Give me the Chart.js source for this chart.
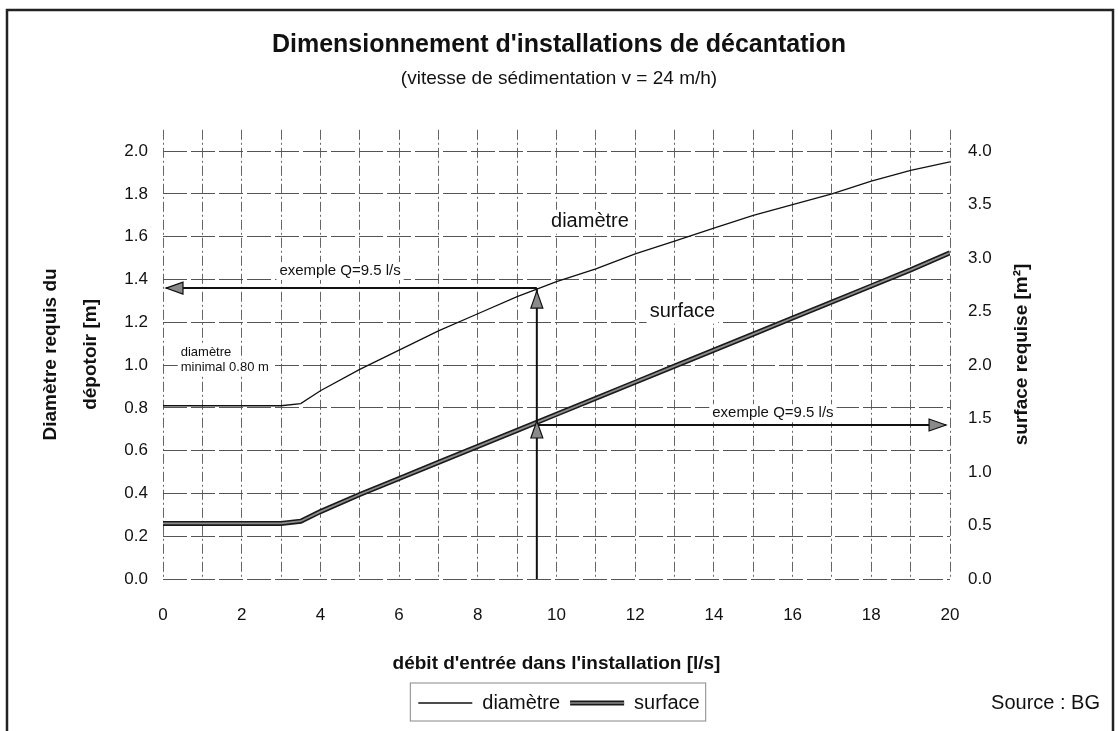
<!DOCTYPE html>
<html>
<head>
<meta charset="utf-8">
<script src="https://cdn.jsdelivr.net/npm/chart.js@4.4.1/dist/chart.umd.min.js"></script>
<style>
    html, body { margin: 0; padding: 0; background: #ffffff; }
    #wrap { position: relative; width: 1118px; height: 731px; }
</style>
</head>
<body>
<div id="wrap"><canvas id="decantChart"></canvas></div>
<script>
// débit d'entrée [l/s]
const flowRates = [0, 1, 2, 3, 3.5, 4, 5, 6, 7, 8, 9, 10, 11, 12, 13, 14, 15, 16, 17, 18, 19, 20];
// diamètre requis [m] (axe gauche)
const diametre = [0.81, 0.81, 0.81, 0.81, 0.82, 0.88, 0.98, 1.07, 1.16, 1.24, 1.32, 1.39, 1.45, 1.52, 1.58, 1.64, 1.70, 1.75, 1.80, 1.86, 1.91, 1.95];
// surface requise [m2] (axe droit)
const surface = [0.52, 0.52, 0.52, 0.52, 0.54, 0.63, 0.79, 0.94, 1.09, 1.24, 1.39, 1.54, 1.69, 1.84, 1.99, 2.14, 2.29, 2.44, 2.59, 2.74, 2.89, 3.05];

// exemple Q = 9.5 l/s
const exampleQ = 9.5;
const exampleDiam = 1.36;
const exampleSurf = 1.44;

const FONT = "'Liberation Sans', Arial, sans-serif";
Chart.defaults.font.family = FONT;
Chart.defaults.color = "#111";

const toPoints = values => flowRates.map((q, i) => ({ x: q, y: values[i] }));

function arrowHead(ctx, x, y, dir) {
    const len = 17, half = 6;
    ctx.beginPath();
    ctx.moveTo(x, y);
    if (dir === "left") { ctx.lineTo(x + len, y - half); ctx.lineTo(x + len, y + half); }
    if (dir === "right") { ctx.lineTo(x - len, y - half); ctx.lineTo(x - len, y + half); }
    if (dir === "up") { ctx.lineTo(x - half, y + len); ctx.lineTo(x + half, y + len); }
    ctx.closePath();
    ctx.fillStyle = "#8a8a8a";
    ctx.fill();
    ctx.lineWidth = 1.2;
    ctx.strokeStyle = "#111";
    ctx.stroke();
}

function label(ctx, text, x, y, size, align) {
    ctx.font = size + "px " + FONT;
    ctx.textAlign = align || "center";
    ctx.textBaseline = "middle";
    const w = ctx.measureText(text).width;
    const left = ctx.textAlign === "left" ? x : x - w / 2;
    ctx.fillStyle = "#fff";
    ctx.fillRect(left - 3, y - size * 0.6, w + 6, size * 1.2);
    ctx.fillStyle = "#111";
    ctx.fillText(text, x, y);
}

const extrasPlugin = {
    id: "extras",
    beforeDraw(chart) {
        const ctx = chart.ctx;
        ctx.save();
        ctx.fillStyle = "#fff";
        ctx.fillRect(0, 0, chart.width, chart.height);
        ctx.restore();
    },
    afterDatasetsDraw(chart) {
        const { ctx, scales: { x, y, y2 } } = chart;
        ctx.save();

        // texte sur le graphique
        label(ctx, "diamètre", x.getPixelForValue(10.85), y.getPixelForValue(1.67), 20);
        label(ctx, "surface", x.getPixelForValue(13.2), y.getPixelForValue(1.25), 20);
        label(ctx, "diamètre", x.getPixelForValue(0.45), y.getPixelForValue(1.06), 13, "left");
        label(ctx, "minimal 0.80 m", x.getPixelForValue(0.45), y.getPixelForValue(0.99), 13, "left");
        label(ctx, "exemple Q=9.5 l/s", x.getPixelForValue(4.5), y.getPixelForValue(1.44), 15);
        label(ctx, "exemple Q=9.5 l/s", x.getPixelForValue(15.5), y2.getPixelForValue(1.55), 15);

        // flèches de l'exemple
        const qx = x.getPixelForValue(exampleQ);
        const dy = y.getPixelForValue(exampleDiam);
        const sy = y2.getPixelForValue(exampleSurf);
        ctx.strokeStyle = "#111";
        ctx.lineWidth = 2;
        ctx.beginPath();
        ctx.moveTo(qx, y.getPixelForValue(0));
        ctx.lineTo(qx, dy);
        ctx.moveTo(qx, dy);
        ctx.lineTo(x.getPixelForValue(0) + 3, dy);
        ctx.moveTo(qx, sy);
        ctx.lineTo(x.getPixelForValue(19.9), sy);
        ctx.stroke();
        arrowHead(ctx, x.getPixelForValue(0) + 3, dy, "left");
        arrowHead(ctx, x.getPixelForValue(19.9), sy, "right");
        arrowHead(ctx, qx, dy + 3, "up");
        arrowHead(ctx, qx, sy - 4, "up");
        ctx.restore();
    },
    afterDraw(chart) {
        const { ctx, chartArea, legend } = chart;
        ctx.save();

        // titre de l'axe droit
        ctx.translate(1022, (chartArea.top + chartArea.bottom) / 2);
        ctx.rotate(-Math.PI / 2);
        ctx.font = "bold 19px " + FONT;
        ctx.fillStyle = "#111";
        ctx.textAlign = "center";
        ctx.textBaseline = "middle";
        ctx.fillText("surface requise [m²]", 0, 0);
        ctx.setTransform(1, 0, 0, 1, 0, 0);

        // cadre de la légende
        const boxes = legend.legendHitBoxes;
        if (boxes.length) {
            const left = Math.min(...boxes.map(b => b.left)) - 8;
            const right = Math.max(...boxes.map(b => b.left + b.width)) + 6;
            ctx.strokeStyle = "#888";
            ctx.lineWidth = 1;
            ctx.strokeRect(left, legend.top, right - left, 38);
            // trait clair au centre de l'échantillon "surface"
            const b = boxes[1];
            ctx.strokeStyle = "#8c8c8c";
            ctx.lineWidth = 1.5;
            ctx.beginPath();
            ctx.moveTo(b.left, b.top + 10);
            ctx.lineTo(b.left + 54, b.top + 10);
            ctx.stroke();
        }

        ctx.font = "20px " + FONT;
        ctx.textAlign = "right";
        ctx.textBaseline = "middle";
        ctx.fillStyle = "#111";
        ctx.fillText("Source : BG", 1100, 703);

        // cadre extérieur
        ctx.strokeStyle = "#222";
        ctx.lineWidth = 2.5;
        ctx.beginPath();
        ctx.moveTo(7, chart.height + 2);
        ctx.lineTo(7, 10);
        ctx.lineTo(1113, 10);
        ctx.lineTo(1113, chart.height + 2);
        ctx.stroke();
        ctx.restore();
    }
};

new Chart(document.getElementById("decantChart"), {
    type: "line",
    data: {
        datasets: [
            {
                label: "diamètre",
                data: toPoints(diametre),
                yAxisID: "y",
                borderColor: "#111",
                backgroundColor: "#111",
                borderWidth: 1.3,
                pointRadius: 0,
                tension: 0,
                order: 1
            },
            {
                label: "surface",
                data: toPoints(surface),
                yAxisID: "y2",
                borderColor: "#1a1a1a",
                backgroundColor: "#1a1a1a",
                borderWidth: 5,
                pointRadius: 0,
                tension: 0,
                order: 2
            },
            {
                label: "surface-inner",
                data: toPoints(surface),
                yAxisID: "y2",
                borderColor: "#8c8c8c",
                borderWidth: 1.8,
                pointRadius: 0,
                tension: 0,
                order: 0
            }
        ]
    },
    options: {
        responsive: true,
        maintainAspectRatio: false,
        animation: false,
        layout: { padding: { left: 0, right: 0, top: 0, bottom: 8 } },
        plugins: {
            title: {
                display: true,
                text: "Dimensionnement d'installations de décantation",
                font: { size: 25, weight: "bold" },
                color: "#111",
                padding: { top: 30, bottom: 3 }
            },
            subtitle: {
                display: true,
                text: "(vitesse de sédimentation v = 24 m/h)",
                font: { size: 19 },
                color: "#111",
                padding: { top: 4, bottom: 40 }
            },
            legend: {
                position: "bottom",
                labels: {
                    usePointStyle: true,
                    pointStyle: "line",
                    pointStyleWidth: 54,
                    padding: 10,
                    font: { size: 20 },
                    color: "#111",
                    filter: item => item.text !== "surface-inner",
                    sort: (a, b) => a.datasetIndex - b.datasetIndex
                }
            },
            tooltip: { enabled: false }
        },
        scales: {
            x: {
                type: "linear",
                min: 0,
                max: 20,
                afterFit: scale => { scale.height = 104; },
                ticks: {
                    stepSize: 1,
                    padding: 26,
                    font: { size: 17 },
                    color: "#111",
                    callback: v => (v % 2 === 0 ? String(v) : "")
                },
                grid: { color: "#666", lineWidth: 1, drawTicks: false },
                border: { display: false, dash: [10, 3, 2, 3] },
                title: {
                    display: true,
                    text: "débit d'entrée dans l'installation [l/s]",
                    font: { size: 19, weight: "bold" },
                    color: "#111",
                    padding: { top: 4, bottom: 8 }
                }
            },
            y: {
                position: "left",
                min: 0,
                max: 2.1,
                afterFit: scale => { scale.width = 163; },
                ticks: {
                    stepSize: 0.2,
                    includeBounds: false,
                    padding: 15,
                    font: { size: 17 },
                    color: "#111",
                    callback: v => v.toFixed(1)
                },
                grid: { color: "#555", lineWidth: 1, drawTicks: false },
                border: { display: false, dash: [24, 4] },
                title: {
                    display: true,
                    text: ["Diamètre requis du", "dépotoir [m]"],
                    font: { size: 19, weight: "bold", lineHeight: 2.1 },
                    color: "#111",
                    padding: { top: 31, bottom: 0 }
                }
            },
            y2: {
                position: "right",
                min: 0,
                max: 4.2,
                afterFit: scale => { scale.width = 168; },
                ticks: {
                    stepSize: 0.5,
                    includeBounds: false,
                    padding: 18,
                    font: { size: 17 },
                    color: "#111",
                    callback: v => v.toFixed(1)
                },
                grid: { drawOnChartArea: false, drawTicks: false },
                border: { display: false }
            }
        }
    },
    plugins: [extrasPlugin]
});
</script>
</body>
</html>
